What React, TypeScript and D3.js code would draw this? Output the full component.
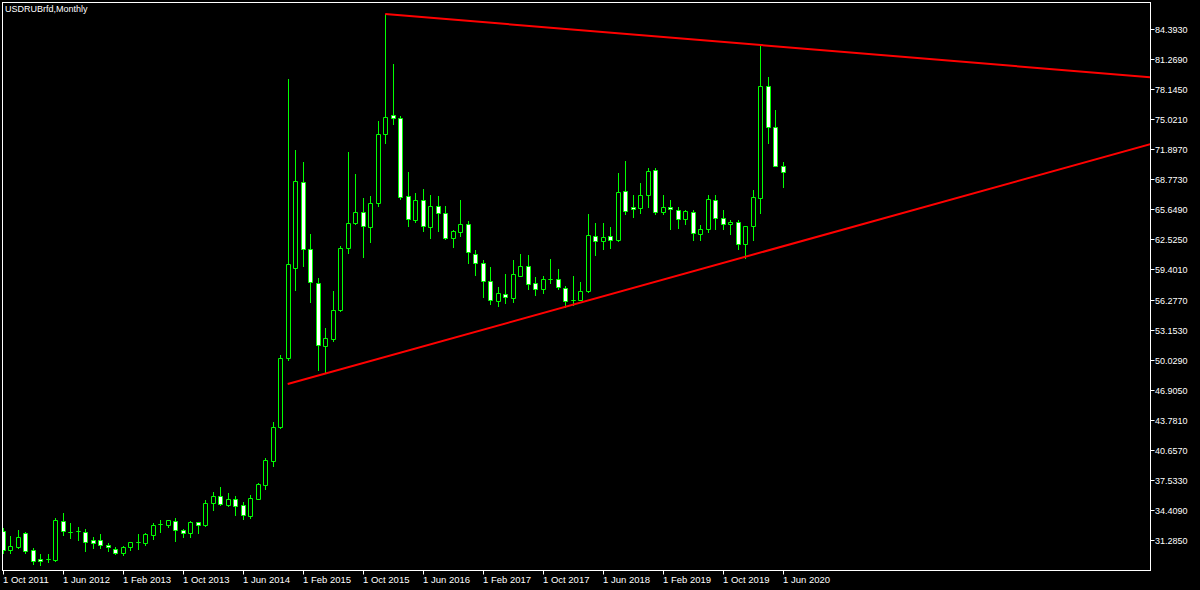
import React from "react";
import * as d3 from "d3";

const title = "USDRUBrfd,Monthly";
const firstMonth = new Date(2011, 9, 1);

const opens = [32.22,30.21,30.59,32.04,30.25,29.34,29.28,29.21,33.29,32.16,32.20,32.15,31.29,31.25,30.77,30.38,29.93,30.53,31.12,31.00,31.80,32.96,32.88,33.23,32.32,31.98,33.12,32.81,35.10,35.86,34.95,35.52,34.89,33.81,35.58,37.00,39.53,43.06,50.17,59.52,68.49,61.56,58.03,51.48,52.14,55.19,61.60,64.20,65.34,63.85,66.34,73.46,75.42,75.17,67.04,64.54,66.62,63.85,65.97,65.30,62.70,63.30,64.13,60.98,60.11,58.23,56.15,56.88,56.47,58.75,59.73,57.96,57.42,58.42,58.46,57.44,56.24,56.23,57.13,62.91,62.39,62.91,62.46,67.53,65.89,65.82,67.11,69.71,65.34,65.89,65.55,64.62,65.37,63.09,63.58,66.65,64.78,64.10,64.33,62.10,63.87,66.86,78.47,74.24,70.15];
const highs = [32.53,31.70,32.32,32.15,30.42,29.83,29.80,33.60,34.12,33.08,32.67,32.46,31.60,31.88,31.00,30.59,30.66,31.11,31.91,31.98,33.08,33.36,33.36,33.54,32.40,33.26,33.19,35.41,36.27,36.76,36.17,35.86,35.27,35.96,37.18,39.77,43.58,50.51,79.20,71.82,70.57,63.09,58.48,53.29,57.16,61.84,71.64,69.32,66.80,67.06,74.88,85.95,80.76,75.35,69.51,67.33,67.76,67.14,67.04,66.00,63.50,66.62,64.44,61.42,60.39,59.69,57.55,58.93,60.39,60.98,60.91,58.65,58.72,60.49,59.42,57.68,58.72,58.07,65.14,64.20,64.20,63.78,69.46,70.67,67.14,68.36,69.92,69.92,67.14,66.62,65.89,65.58,65.58,64.02,67.14,67.14,65.58,64.54,64.54,63.89,67.66,82.66,79.40,75.98,70.60];
const lows = [29.93,29.96,30.48,29.90,28.76,28.66,29.00,29.14,31.77,31.49,31.29,30.17,30.48,30.48,30.11,29.83,29.73,30.25,30.38,30.77,31.39,32.09,32.67,31.21,31.60,31.60,31.98,32.77,34.40,34.95,34.85,33.92,33.44,33.60,35.52,36.59,39.01,42.93,49.99,57.27,59.76,56.05,48.95,48.78,51.97,55.08,61.14,64.13,60.73,62.29,66.03,72.58,74.57,66.73,63.95,64.37,63.40,62.70,63.40,62.60,61.77,62.88,60.04,58.83,56.57,55.81,55.64,55.95,56.05,58.75,57.34,56.75,56.92,57.96,57.34,55.53,55.71,56.18,57.06,60.94,61.50,61.60,62.39,65.17,64.89,65.30,65.92,65.13,65.13,63.58,63.68,64.13,62.46,62.46,63.33,63.58,63.58,63.09,61.50,60.59,62.46,65.24,72.58,70.15,68.00];
const closes = [30.25,30.66,31.63,30.14,29.07,29.07,29.26,33.36,32.19,32.14,32.18,31.11,31.00,30.80,30.53,29.93,30.59,31.05,31.10,31.88,32.84,32.94,33.33,32.29,32.01,33.12,32.81,35.16,35.86,35.03,35.58,34.85,33.85,35.65,37.07,39.57,43.00,50.22,59.94,68.60,61.50,58.07,51.52,52.25,55.19,61.66,64.20,65.41,63.92,66.36,73.48,75.28,75.11,66.96,64.62,66.64,63.89,65.97,65.24,62.70,63.37,64.13,61.25,60.04,58.20,56.23,56.96,56.51,58.93,59.73,57.92,57.40,58.38,58.40,57.55,56.15,56.22,57.13,62.95,62.39,62.75,62.50,67.42,65.51,65.65,67.11,69.64,65.34,65.86,65.65,64.62,65.48,63.22,63.61,66.76,64.78,64.10,64.33,62.02,63.89,66.93,78.47,74.24,70.15,69.56];

const yTicks = [84.393,81.269,78.145,75.021,71.897,68.773,65.649,62.525,59.401,56.277,53.153,50.029,46.905,43.781,40.657,37.533,34.409,31.285];
const xTickEvery = 8;

// trend lines: anchor points as [bar index, price]
const upperTrend = [[51, 85.95], [101, 82.73]];
const lowerTrend = [[38, 47.5], [99, 60.72]];

const W = 1200, H = 590;
const L = 2.5, T = 2.5, R = 1150.5, B = 570.5;

export default function App() {
  const n = opens.length;
  const x = d3.scaleLinear().domain([0, 1]).range([2.7, 10.2]);
  const y = d3.scaleLinear().domain([31.285, 84.393]).range([540, 29]);
  const fmt = d3.timeFormat("1 %b %Y");
  const green = "#00ff00";

  const candles = d3.range(n).map((i) => {
    const cx = Math.round(x(i)) + 0.5;
    const o = opens[i], c = closes[i];
    const bull = c >= o;
    const yt = Math.round(y(Math.max(o, c))) + 0.5;
    const yb = Math.round(y(Math.min(o, c))) + 0.5;
    const yh = Math.round(y(highs[i]));
    const yl = Math.round(y(lows[i])) + 1;
    const body = `M${cx - 2},${yt}H${cx + 2}V${yb}H${cx - 2}Z`;
    return (
      <g key={i}>
        <line x1={cx} x2={cx} y1={yh} y2={yl} stroke={green} strokeWidth={1} />
        <path d={body} fill={bull ? "#000" : "#fff"} stroke={green} strokeWidth={1} />
      </g>
    );
  });

  const trend = (pts: number[][], color: string, key: string) => {
    const [[i1, p1], [i2, p2]] = pts;
    const xEnd = x.invert(R);
    const pEnd = p1 + ((p2 - p1) / (i2 - i1)) * (xEnd - i1);
    return (
      <line key={key} x1={x(i1)} y1={y(p1)} x2={x(xEnd)} y2={y(pEnd)} stroke={color} strokeWidth={2} />
    );
  };

  const xTicks = d3.range(0, n, xTickEvery);

  return (
    <svg width={W} height={H} style={{ position: "absolute", left: 0, top: 0, background: "#000" }}
      fontFamily="'Liberation Sans', Arial, sans-serif">
      <rect x={0} y={0} width={W} height={H} fill="#000" />
      <defs>
        <clipPath id="plot">
          <rect x={L + 0.5} y={T + 0.5} width={R - L - 1} height={B - T - 1} />
        </clipPath>
      </defs>
      <g clipPath="url(#plot)">
        {candles}
        {trend(upperTrend, "#ff0000", "u")}
        {trend(lowerTrend, "#ff0000", "l")}
      </g>
      <rect x={L} y={T} width={R - L} height={B - T} fill="none" stroke="#fff" strokeWidth={1} />
      {yTicks.map((v) => {
        const yy = Math.round(y(v)) + 0.5;
        return (
          <g key={v}>
            <line x1={R} x2={R + 4} y1={yy} y2={yy} stroke="#fff" />
            <text x={1155} y={yy} dy="0.35em" fill="#fff" fontSize={9}>{v.toFixed(4)}</text>
          </g>
        );
      })}
      {xTicks.map((i) => {
        const xx = Math.round(x(i)) + 0.5;
        const d = d3.timeMonth.offset(firstMonth, i);
        return (
          <g key={i}>
            <line x1={xx} x2={xx} y1={B} y2={B + 4} stroke="#fff" />
            <text x={xx - 0.5} y={583} fill="#fff" fontSize={9.5}>{fmt(d)}</text>
          </g>
        );
      })}
      <text x={5} y={12} fill="#fff" fontSize={9}>{title}</text>
    </svg>
  );
}
